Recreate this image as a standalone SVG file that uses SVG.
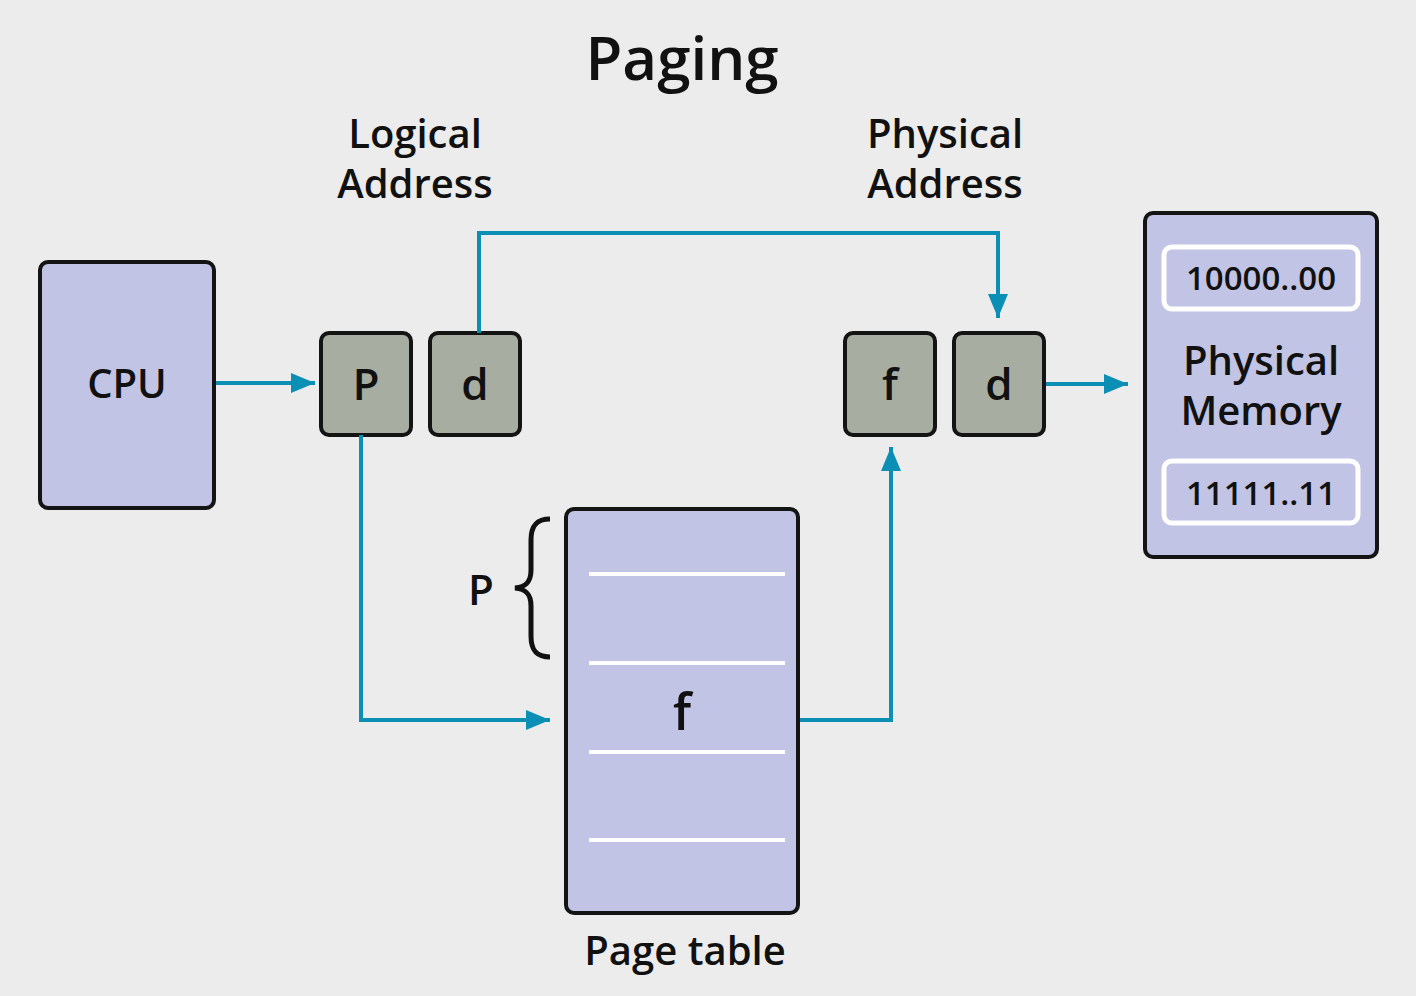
<svg xmlns="http://www.w3.org/2000/svg" width="1416" height="996" viewBox="0 0 1416 996">
<defs>
<marker id="ah" viewBox="0 0 24 20" refX="24" refY="10" markerWidth="24" markerHeight="20" markerUnits="userSpaceOnUse" orient="auto">
<path d="M0,0 L24,10 L0,20 Z" fill="#0b8fb5"/>
</marker>
<style>
.box{fill:#c1c4e4;stroke:#141414;stroke-width:4}
.reg{fill:#a7ada1;stroke:#141414;stroke-width:4}
.inner{fill:#c1c4e4;stroke:#ffffff;stroke-width:5}
.row{stroke:#ffffff;stroke-width:4}
.conn{fill:none;stroke:#0b8fb5;stroke-width:4}
text{font-family:"Open Sans","Noto Sans",sans-serif;font-weight:600;fill:#111;text-anchor:middle}
</style>
</defs>
<rect width="1416" height="996" fill="#ececec"/>
<text x="682" y="80" font-size="60" font-weight="700">Paging</text>
<g id="logical-label"><text x="415" y="148" font-size="40"><tspan x="415">Logical</tspan><tspan x="415" dy="50">Address</tspan></text></g>
<g id="physical-label"><text x="945" y="148" font-size="40"><tspan x="945">Physical</tspan><tspan x="945" dy="50">Address</tspan></text></g>
<g id="cpu"><rect class="box" x="40" y="262" width="174" height="246" rx="8"/><text x="127" y="398" font-size="40">CPU</text></g>
<g id="logical-p"><rect class="reg" x="321" y="333" width="90" height="102" rx="8"/><text x="366" y="400" font-size="44">P</text></g>
<g id="logical-d"><rect class="reg" x="430" y="333" width="90" height="102" rx="8"/><text x="475" y="400" font-size="44">d</text></g>
<g id="physical-f"><rect class="reg" x="845" y="333" width="90" height="102" rx="8"/><text x="890" y="400" font-size="44">f</text></g>
<g id="physical-d"><rect class="reg" x="954" y="333" width="90" height="102" rx="8"/><text x="999" y="400" font-size="44">d</text></g>
<g id="memory">
<rect class="box" x="1145" y="213" width="232" height="344" rx="8"/>
<rect class="inner" x="1164" y="247" width="194" height="62" rx="8"/>
<text x="1261" y="290" font-size="33">10000..00</text>
<text x="1261" y="375" font-size="40"><tspan x="1261">Physical</tspan><tspan x="1261" dy="50">Memory</tspan></text>
<rect class="inner" x="1164" y="461" width="194" height="62" rx="8"/>
<text x="1261" y="505" font-size="33">11111..11</text>
</g>
<g id="page-table">
<rect class="box" x="566" y="509" width="232" height="404" rx="8"/>
<line class="row" x1="589" y1="574" x2="785" y2="574"/>
<line class="row" x1="589" y1="663" x2="785" y2="663"/>
<line class="row" x1="589" y1="752" x2="785" y2="752"/>
<line class="row" x1="589" y1="840" x2="785" y2="840"/>
<text x="682" y="730" font-size="50">f</text>
<text x="685" y="965" font-size="40">Page table</text>
</g>
<g id="brace">
<path d="M550,519 C536,519 531,526 531,540 L531,570 C531,582 526,587 515,588 C526,589 531,594 531,606 L531,636 C531,650 536,657 550,657" fill="none" stroke="#111" stroke-width="5"/>
<text x="481" y="605" font-size="42">P</text>
</g>
<g id="connectors">
<path class="conn" d="M216,383 L315,383" marker-end="url(#ah)"/>
<path class="conn" d="M479,333 L479,233 L998,233 L998,318" marker-end="url(#ah)"/>
<path class="conn" d="M361,435 L361,720 L550,720" marker-end="url(#ah)"/>
<path class="conn" d="M800,720 L891,720 L891,447" marker-end="url(#ah)"/>
<path class="conn" d="M1046,384 L1128,384" marker-end="url(#ah)"/>
</g>
</svg>
